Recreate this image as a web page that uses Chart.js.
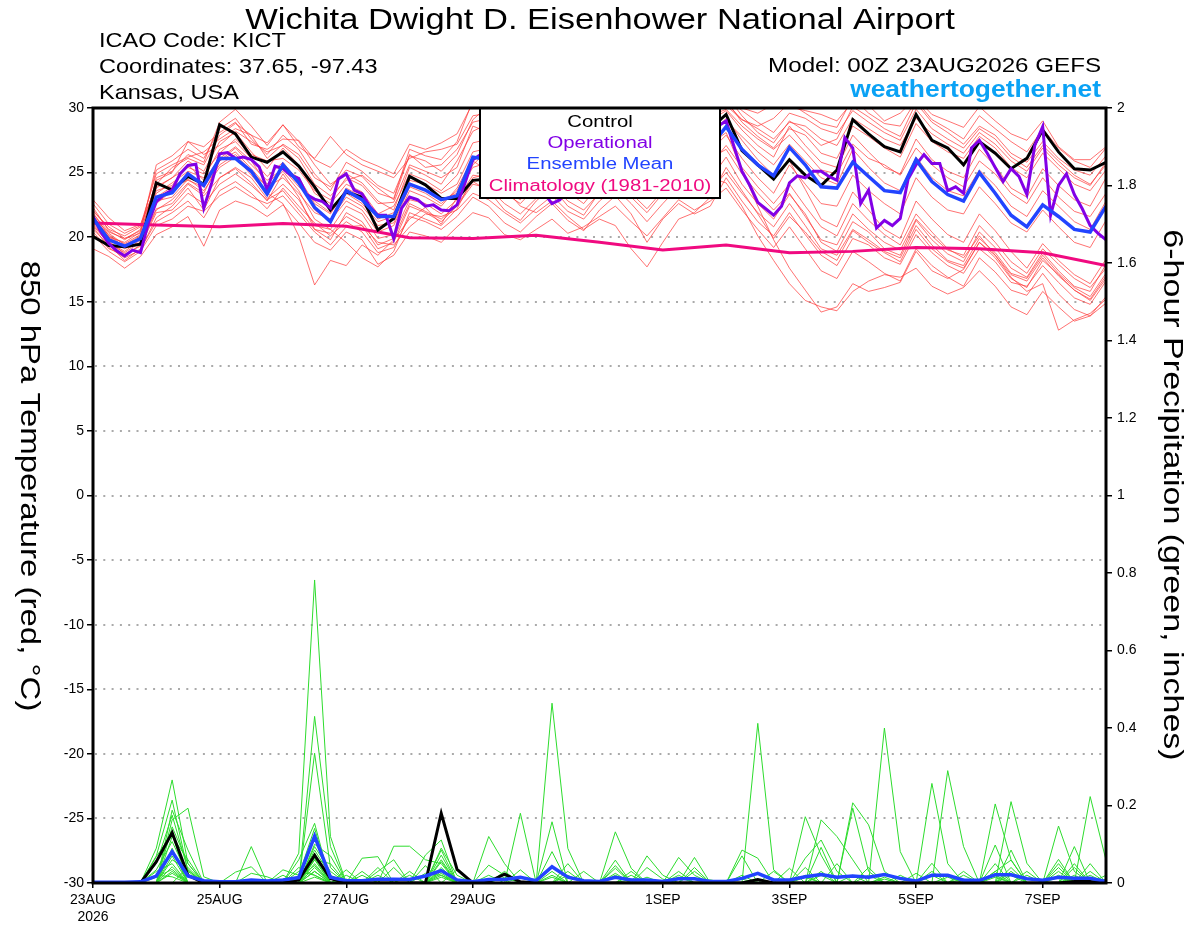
<!DOCTYPE html>
<html>
<head>
<meta charset="utf-8">
<script src="https://cdn.jsdelivr.net/npm/chart.js@4.4.1/dist/chart.umd.min.js"></script>
<style>
  html, body { margin: 0; padding: 0; background: #fff; }
  #wrap { position: relative; width: 1200px; height: 927px; }
</style>
</head>
<body>
<div id="wrap"><canvas id="c" width="1200" height="927"></canvas></div>
<script>
// ---- axis ticks (hours from 00Z 23AUG2026) ----
const xTickHours = [0, 48, 96, 144, 216, 264, 312, 360];
const xTickLabels = [["23AUG", "2026"], "25AUG", "27AUG", "29AUG", "1SEP", "3SEP", "5SEP", "7SEP"];

// ---- 850 hPa temperature, 6-hourly, 65 steps ----
const control = [
  20.05,19.35,19.25,19.45,24.2, 23.65,24.7,24.1,28.7,28.0, 26.2,25.8,26.6,25.5,23.9,
  22.1,23.5,23.1,20.55,21.45, 24.7,24.05,23.0,23.0,24.4, 24.5,25.2,25.8,26.5,25.6,
  26.0,27.1,27.9,27.3,26.8, 27.5,28.3,27.6,28.0,28.4, 29.5,26.7,25.6,24.5,26.0,
  24.8,24.0,25.2,29.1,28.0, 27.0,26.6,29.5,27.5,26.9, 25.6,27.4,26.5,25.3,26.1,
  28.3,26.6,25.3,25.2,25.8
];
const ensMean = [
  21.45,19.8,19.3,19.9,23.1, 23.45,24.9,24.0,26.1,26.1, 25.1,23.35,25.6,24.2,22.3,
  21.2,23.6,22.9,21.6,21.6, 24.1,23.65,22.9,23.2,26.2, 26.0,25.4,24.6,25.8,25.0,
  24.2,25.5,26.8,26.0,25.3, 24.6,25.9,27.0,26.2,27.0, 28.55,26.8,25.6,24.75,26.95,
  25.6,23.9,23.8,25.8,24.7, 23.6,23.45,26.0,24.3,23.3, 22.8,25.0,23.4,21.7,20.8,
  22.5,21.6,20.6,20.4,22.4
];
// operational run, 3-hourly, 129 steps
const operational = [
  21.6,20.4,19.5,18.95,18.55,19.0,18.8,21.1,
  22.75,23.3,23.65,24.9,25.55,25.65,22.25,24.2,
  26.45,26.55,26.1,26.2,26.0,25.45,23.65,25.5,
  25.3,24.8,24.55,23.3,22.95,22.75,22.25,24.5,
  24.9,23.65,23.35,22.35,21.7,21.7,19.9,22.25,
  23.1,22.9,22.4,22.5,22.1,22.05,22.5,24.2,
  26.0,26.4,25.8,25.1,24.6,25.3,24.8,24.1,
  23.9,23.4,22.6,22.9,23.8,24.6,25.5,26.2,
  25.7,25.0,25.9,26.8,26.3,25.6,26.1,27.0,
  27.6,26.9,26.4,27.2,27.9,27.3,27.8,28.6,
  29.0,27.0,25.1,24.0,22.7,22.2,21.7,22.4,
  24.2,24.75,24.6,25.1,25.1,24.7,24.4,27.7,
  26.9,22.6,23.65,20.7,21.3,20.9,21.45,24.5,
  25.6,26.4,25.7,25.7,23.6,23.9,23.4,26.9,
  27.5,26.5,25.4,24.3,25.3,24.7,23.3,27.1,
  28.55,21.7,24.0,24.9,23.3,22.2,20.9,20.3,
  19.8
];
// 1981-2010 climatology, daily
const climatology = [21.1,20.95,20.8,21.05,20.85,19.95,19.9,20.15,19.6,19.0,19.4,18.8,18.9,19.2,19.1,18.8,17.8];

const tempMembers = [
  [22.3,20.5,19.8,20.6,25.2, 25.9,26.8,26.1,28.4,29.2, 27.6,26.4,27.9,26.8,24.9, 23.6,25.8,25.1,24.0,23.4, 26.3,25.9,25.1,26.4,29.1, 30.2,29.4,28.6,29.8,30.5, 29.1,28.4,29.6,30.8,29.9, 28.7,29.3,30.4,29.8,30.6, 31.0,29.4,28.1,27.3,29.0, 28.2,27.1,27.6,30.1,29.3, 28.4,27.8,30.4,28.9,28.1, 27.2,28.6,27.9,26.5,25.8, 27.4,26.1,25.2,24.8,26.3],
  [20.8,19.2,18.4,19.0,21.5, 22.4,23.8,22.1,24.6,25.3, 24.2,22.8,24.9,23.1,20.6, 19.8,21.9,21.2,19.4,19.9, 22.6,22.0,21.4,22.5,24.3, 23.6,22.1,21.3,22.8,23.9, 22.4,21.7,23.5,24.6,23.1, 21.9,23.4,24.8,23.9,24.5, 26.2,24.1,22.6,21.4,23.3, 21.8,19.6,18.9,21.2,20.4, 19.1,18.6,21.3,19.8,18.7, 18.1,20.4,19.2,17.6,16.9, 18.8,17.4,16.2,15.8,17.9],
  [21.9,20.1,19.5,20.2,22.8, 23.1,24.5,23.6,25.4,26.2, 24.8,23.4,22.6,20.1,16.3, 18.2,17.8,19.4,18.6,19.8, 21.4,22.3,21.0,23.1,25.6, 26.8,25.2,24.4,26.1,27.3, 25.8,24.9,26.5,27.8,26.4, 25.1,26.8,28.2,27.1,27.9, 29.2,27.5,26.0,24.8,25.9, 23.7,21.4,20.8,23.5,22.1, 20.6,19.9,22.8,21.4,20.2, 19.6,21.8,20.5,18.9,17.6, 19.5,18.2,17.1,16.4,18.3],
  [21.2,19.9,19.1,19.6,24.6, 25.1,26.4,25.8,28.9,29.9, 28.6,27.1,28.7,27.4,25.6, 24.1,24.9,24.2,22.8,22.1, 25.4,24.8,24.1,25.9,28.2, 28.8,27.9,27.1,28.6,29.4, 28.1,27.6,28.9,30.1,29.2, 28.4,29.6,30.8,30.2,30.9, 30.6,28.9,27.8,26.9,28.4, 27.9,26.5,26.1,28.6,27.8, 26.9,26.2,28.8,27.4,26.6, 26.1,27.8,26.9,25.4,24.6, 26.5,25.3,24.1,23.6,25.2],
  [19.1,18.5,17.6,18.5,20.2, 20.8,21.6,19.3,22.1,22.8, 22.4,21.6,22.5,21.1,19.6, 19.0,20.4,19.8,17.9,18.6, 20.4,20.1,19.6,20.8,21.9, 21.5,20.2,19.8,20.6,21.4, 20.3,20.8,21.6,22.4,21.2, 20.1,21.5,22.9,22.1,22.8, 23.8,22.1,20.6,19.2,20.8, 19.1,17.4,16.8,18.9,18.1, 17.2,16.6,19.1,17.8,16.9, 16.2,18.4,17.3,15.9,15.5, 17.2,15.6,14.4,13.9,15.4],
  [21.6,20.3,19.4,20.1,23.4, 24.2,25.1,24.6,26.8,27.4, 26.1,24.7,25.8,24.3,22.1, 21.3,22.8,22.1,20.4,20.9, 23.6,23.1,22.4,23.8,26.1, 26.4,25.1,24.3,25.6,26.5, 25.2,24.4,25.9,27.1,26.0, 24.8,26.2,27.5,26.6,27.2, 28.1,25.2,22.4,19.8,17.6, 15.9,14.2,14.6,16.4,15.8, 16.1,16.5,18.9,17.4,16.8, 17.5,19.6,18.4,16.8,16.1, 18.2,17.1,15.9,15.2,17.0],
  [20.4,19.1,18.6,19.4,22.1, 22.9,24.2,23.4,25.9,26.6, 25.3,23.9,25.1,23.6,21.4, 20.6,22.4,21.8,19.9,20.2, 22.9,22.6,21.8,22.9,24.8, 24.6,23.4,22.6,23.9,24.8, 23.5,22.6,24.1,25.3,24.2, 23.1,24.6,25.8,24.9,25.6, 27.1,25.4,23.9,22.6,24.1, 22.4,20.8,20.1,22.6,21.3, 20.2,19.4,21.8,20.4,19.1, 18.4,20.1,18.6,16.9,15.8, 16.4,12.8,13.6,14.1,15.2],
  [21.4,20.0,19.6,20.4,25.6, 26.3,27.4,27.0,28.1,28.9, 27.2,26.8,27.6,27.5,26.0, 25.4,26.8,26.0,25.5,24.9, 27.2,26.8,27.3,28.0,30.4, 31.0,30.1,29.4,30.6,31.2, 29.8,29.1,30.4,31.3,30.5, 29.6,30.2,31.4,30.8,31.2, 30.8,30.0,29.6,30.3,30.1, 29.8,29.5,29.0,30.5,30.2, 29.0,29.6,30.8,29.5,29.0, 28.5,30.1,29.0,28.0,27.5, 29.0,27.0,26.0,26.0,27.0],
  [22.9,21.5,20.5,21.0,23.9, 24.6,25.9,25.1,27.4,28.1, 26.6,25.3,26.9,25.6,23.4, 22.6,24.1,23.5,21.8,22.4, 24.9,24.4,23.6,24.8,27.3, 27.6,26.4,25.5,27.0,28.1, 26.9,26.1,27.4,28.6,27.5, 26.4,27.9,29.2,28.4,29.0, 29.8,28.3,27.1,26.2,28.6, 27.1,25.8,25.4,27.9,26.6, 25.4,24.9,27.6,26.0,25.1, 24.6,26.8,25.5,23.8,23.1, 25.3,24.0,22.9,22.4,24.6],
  [21.0,19.6,18.9,19.8,22.6, 23.6,24.8,24.1,25.9,26.9, 25.6,24.4,25.3,23.9,22.8, 21.9,23.4,22.6,21.2,21.6, 24.2,23.6,22.9,23.4,25.4, 25.8,24.6,23.8,25.2,26.1, 24.7,23.9,25.3,26.6,25.5, 24.2,25.7,27.0,26.1,26.7, 27.9,26.1,24.6,23.4,25.6, 24.1,22.6,22.4,24.8,23.6, 22.6,21.8,24.6,23.1,22.1, 21.8,23.9,22.6,21.1,20.4, 22.1,20.8,19.6,19.2,21.3],
  [22.1,20.6,20.1,20.8,24.1, 25.4,26.1,25.6,27.9,28.8, 27.9,26.1,27.2,26.4,24.6, 23.9,25.2,24.7,23.4,23.0, 26.8,26.3,26.0,27.4,30.6, 30.4,29.3,28.4,29.5,30.1, 28.9,28.0,29.2,30.2,29.3, 28.1,29.0,30.3,29.5,30.2, 30.9,29.8,28.9,28.1,29.6, 29.2,28.4,28.0,29.8,28.9, 28.1,27.5,29.9,28.4,27.6, 26.9,28.4,27.6,26.2,25.4, 27.1,25.9,24.8,24.1,25.6],
  [20.6,19.4,18.2,19.1,21.2, 21.9,22.8,21.5,23.6,24.3, 23.4,22.2,23.8,22.4,21.1, 20.1,21.2,20.4,18.8,19.2, 21.6,21.2,20.6,21.6,23.1, 22.4,21.1,20.4,21.6,22.6, 21.3,20.5,22.1,23.2,21.8, 19.6,21.4,22.6,21.8,22.4, 24.6,22.8,21.2,20.1,21.9, 20.2,18.6,17.8,19.9,19.4, 18.4,17.9,20.2,18.8,17.8, 17.2,19.1,18.1,16.5,16.2, 17.8,16.5,15.3,14.8,16.6],
  [21.8,20.4,19.9,20.5,23.8, 24.6,25.4,24.9,26.5,27.6, 26.4,25.9,26.1,25.2,23.6, 22.9,24.6,24.0,22.6,22.7, 25.6,25.1,24.6,25.4,28.6, 28.1,27.2,26.4,27.8,28.6, 27.4,26.6,27.9,29.1,28.1, 27.1,28.4,29.6,28.9,29.4, 29.9,28.6,27.6,26.8,27.9, 26.6,25.2,24.9,27.2,26.1, 25.6,24.8,26.9,25.6,24.6, 23.9,25.9,24.9,23.4,22.6, 24.6,23.1,22.0,21.6,23.4],
  [20.9,19.5,18.8,19.6,22.2, 22.6,24.1,23.2,24.6,25.4, 24.6,23.0,24.1,22.9,20.9, 20.6,19.6,18.4,17.7,18.9, 21.9,21.4,20.9,22.2,24.6, 24.9,23.6,22.9,24.3,25.1, 24.0,23.2,24.6,25.8,24.6, 23.4,24.9,26.2,25.4,26.1, 26.8,24.9,23.4,22.1,23.4, 21.6,19.8,19.4,21.8,20.6, 19.6,19.0,21.4,20.1,19.0, 18.6,20.9,19.6,18.1,17.2, 19.1,17.9,16.8,16.1,17.6],
  [22.6,21.0,20.3,20.9,24.9, 25.6,26.2,26.6,27.6,28.4, 27.9,27.3,28.7,27.0,26.1, 27.8,26.4,25.6,25.1,24.6, 26.1,26.6,26.8,27.2,29.4, 29.6,28.7,27.9,29.1,29.8, 28.6,27.8,29.0,30.4,29.4, 28.2,29.4,30.6,29.6,30.4, 30.4,29.1,28.4,27.6,28.9, 28.6,27.6,27.1,29.2,28.4, 27.6,27.1,29.2,28.0,27.2, 26.5,28.1,27.2,25.9,25.1, 26.9,25.6,24.6,24.0,25.8],
  [21.3,20.2,19.2,19.9,23.1, 23.9,24.4,23.9,25.6,26.4, 25.1,23.9,24.6,23.4,21.9, 21.4,23.1,22.4,20.9,21.1, 23.9,23.4,22.6,23.6,25.9, 25.1,23.8,22.4,21.9,22.8, 21.6,20.6,21.4,20.9,19.1, 17.7,19.6,21.4,21.9,23.1, 25.4,23.6,21.8,19.9,21.6, 20.4,18.9,18.2,20.5,19.6, 18.8,18.1,20.6,19.1,18.1, 17.6,19.6,18.6,17.1,16.6, 18.4,17.0,15.9,15.1,16.8],
  [22.0,20.8,19.9,20.3,24.4, 25.0,27.4,26.4,27.1,28.2, 27.4,26.6,27.1,26.1,24.1, 23.2,24.4,24.8,23.8,22.9, 26.4,25.4,25.6,26.8,28.9, 29.2,28.3,27.6,28.9,29.6, 28.4,27.4,28.6,29.8,28.8, 27.6,28.8,30.1,29.3,29.8, 30.2,29.1,28.6,29.2,30.4, 29.6,28.8,28.5,30.8,29.6, 28.8,28.6,30.6,29.1,28.4, 27.6,29.4,28.4,27.4,26.6, 28.4,26.9,25.9,25.4,26.9],
  [20.2,18.9,18.1,18.9,20.9, 21.4,22.4,22.0,23.2,23.9, 23.1,22.6,23.2,21.8,20.4, 19.4,20.8,20.9,19.6,19.4, 20.8,21.8,21.6,22.1,23.4, 22.9,21.9,21.1,22.2,23.2, 22.0,21.4,22.8,23.8,22.6, 21.2,22.6,23.9,23.2,23.6, 25.0,23.4,21.9,20.8,22.6, 20.9,19.1,18.6,20.6,19.8, 18.9,18.4,20.9,19.4,18.2, 17.8,19.9,18.8,17.2,16.8, 18.6,17.2,16.1,15.4,17.2],
  [21.7,20.0,19.3,20.0,23.6, 24.0,25.6,24.4,26.1,27.0, 25.9,24.1,25.4,24.6,22.6, 21.8,23.8,23.1,21.4,21.9, 24.4,24.1,23.4,24.1,26.6, 26.9,25.6,24.8,26.4,27.4, 26.1,25.2,26.6,27.9,26.8, 25.6,27.1,28.5,27.6,28.3, 29.0,27.8,26.6,25.6,27.2, 25.9,24.6,24.1,26.8,25.4, 24.2,23.6,26.2,24.6,23.6, 23.2,25.2,24.0,22.4,21.6, 23.6,22.4,21.2,20.6,22.8],
  [21.1,19.7,18.7,19.3,21.9, 22.1,23.4,22.6,24.1,24.9, 24.0,22.9,23.6,22.1,20.6, 20.3,21.6,20.9,19.1,19.6, 22.4,21.9,21.2,22.4,24.1, 23.8,22.6,21.8,23.0,24.1, 22.8,22.1,23.4,24.6,23.4, 22.2,23.6,24.9,24.1,24.6, 24.2,22.4,20.1,18.2,16.4, 15.1,14.6,14.3,15.8,16.6, 17.1,16.9,17.6,16.2,15.6, 16.1,17.4,16.2,14.6,14.0, 15.8,14.6,13.5,13.9,14.9]
];

// ---- 6-hour precipitation (inches), 6-hourly, 65 steps ----
const precipControl = [
  0,0,0,0,0.055, 0.13,0.02,0,0,0, 0,0,0,0.008,0.072, 0.012,0,0,0,0, 0,0,0.18,0.035,0,
  0.003,0.023,0.003,0,0, 0,0,0,0,0, 0,0,0,0,0, 0,0,0.009,0,0, 0,0,0,0,0,
  0,0,0,0,0, 0,0,0,0,0, 0,0,0.004,0.004,0
];
const precipMean = [
  0.002,0.002,0.002,0.003,0.018, 0.081,0.018,0.006,0.003,0.003, 0.008,0.005,0.008,0.014,0.121,
  0.015,0.006,0.006,0.01,0.01, 0.009,0.018,0.032,0.008,0.003, 0.009,0.009,0.015,0.006,0.042,
  0.015,0.006,0.004,0.015,0.008, 0.008,0.004,0.011,0.011,0.004, 0.004,0.012,0.025,0.008,0.008,
  0.016,0.022,0.015,0.018,0.015, 0.022,0.012,0.005,0.02,0.02, 0.007,0.007,0.021,0.021,0.011,
  0.007,0.015,0.012,0.012,0.004
];
const precipMembers = [
  [0,0,0,0,.09, .266,.05,0,0,0, 0,0,0,0,.06, 0,0,0,0,0, 0,0,.085,0,0, 0,0,0,0,.158, 0,0,0,.132,.038, 0,0,0,0,0, 0,0,.412,.034,0, 0,0,0,0,0, 0,0,0,.257,.05, 0,0,0,.085,0, 0,0,0,0,0],
  [0,0,0,0,.07, .214,.03,0,0,0, 0,0,0,.077,.782, .12,0,0,0,0, 0,0,.072,0,0, 0,0,.18,0,0, 0,0,0,0,0, 0,0,0,0,0, 0,0,0,0,0, .171,.072,0,0,0, 0,0,0,0,0, 0,0,.204,.06,0, 0,0,0,.223,.059],
  [0,0,0,0,0, .188,.085,0,0,0, 0,0,0,0,.43, .094,0,0,0,0, 0,.072,.111,0,0, 0,0,0,0,.464, .089,0,0,0,0, 0,0,0,0,0, 0,0,0,0,0, 0,.163,.12,.06,0, 0,0,0,0,.29, .094,0,0,0,0, 0,.147,.03,0,0],
  [0,0,0,0,.05, .175,.034,0,0,0, .094,0,0,0,.335, .04,0,0,0,0, 0,0,0,0,0, .12,.05,0,0,0, 0,0,0,0,0, 0,0,0,0,0, 0,0,0,0,0, 0,0,0,.207,.15, .03,0,0,0,0, 0,0,0,.21,.051, 0,0,.094,0,0],
  [0,0,0,0,0, .163,.193,.016,0,0, 0,0,0,.06,.154, 0,0,.064,.068,0, 0,0,0,0,0, 0,0,0,0,0, 0,0,0,.059,0, .07,.02,0,0,0, 0,0,0,0,0, 0,0,0,0,0, .40,.081,0,0,0, 0,0,.098,0,0, 0,.061,0,0,0],
  [0,0,0,0,0, .145,.05,0,0,0, 0,0,.034,.02,.141, 0,0,0,0,.095, .095,.06,.05,0,0, 0,0,0,0,0, 0,0,0,0,0, 0,0,0,0,0, 0,.085,.064,0,0, 0,0,0,.193,.03, 0,0,0,.051,0, 0,0,0,0,0, 0,0,0,0,.02],
  [0,0,0,0,.068, .128,0,0,0,0, 0,0,0,0,.094, .03,0,0,0,0, 0,0,.04,0,0, .046,.02,0,0,0, 0,0,0,0,0, 0,0,.066,.02,0, 0,0,0,0,0, .064,.111,.03,0,0, 0,0,0,0,0, .03,0,.03,.059,0, 0,0,0,0,0],
  [0,0,0,0,.034, .107,.02,0,0,.028, .042,0,0,0,.077, 0,.034,0,0,0, 0,0,0,0,0, 0,0,.034,0,.081, 0,0,0,.038,0, 0,0,0,.066,0, 0,0,0,0,0, 0,.092,0,0,0, 0,0,.025,0,0, 0,0,0,0,0, 0,0,.02,0,0],
  [0,0,0,0,0, .085,0,0,0,0, .025,.016,0,0,.05, 0,0,0,.03,.06, 0,0,.03,0,0, 0,0,0,0,0, .02,0,0,0,.03, 0,0,0,0,0, 0,.07,0,0,.038, 0,0,0,0,.02, 0,0,0,0,0, 0,0,0,0,.02, 0,0,0,.03,0],
  [0,0,0,0,0, .06,.034,0,0,0, 0,0,.02,0,.03, 0,0,.03,0,0, 0,.025,.02,0,0, 0,.03,0,0,0, 0,0,0,0,0, .04,.01,0,0,0, 0,0,0,.03,0, 0,0,0,0,0, 0,.02,0,0,0, 0,0,.05,0,0, 0,.04,0,0,0],
  [0,0,0,0,0, .042,0,0,0,0, 0,0,0,.03,.02, 0,.02,0,0,0, 0,0,0,.034,0, 0,0,0,0,0, 0,.03,0,0,0, 0,0,.03,0,.008, 0,0,0,0,0, .04,0,0,0,0, 0,0,0,0,0, 0,0,0,.04,0, 0,0,.05,0,0],
  [0,0,0,0,0, .03,0,0,0,0, 0,0,0,0,.06, .05,0,0,0,0, .02,0,.06,0,0, 0,0,0,0,.03, 0,0,0,.02,0, 0,0,0,0,0, 0,0,0,0,0, 0,0,.05,0,0, 0,0,0,.02,0, 0,0,0,0,0, 0,.03,0,.05,0],
  [0,0,0,0,.02, .016,0,0,0,0, 0,0,0,0,.04, 0,0,0,.04,0, 0,0,.055,0,0, .02,0,0,0,0, .05,0,0,0,0, 0,0,0,.03,0, 0,0,0,0,0, 0,.03,0,0,0, 0,0,0,0,0, .02,0,0,0,0, 0,0,.04,0,0],
  [0,0,0,0,0, .12,.06,0,0,0, 0,0,0,0,.1, .07,0,0,0,.04, 0,.045,0,0,0, 0,0,0,0,0, 0,0,0,.025,0, 0,0,.02,0,0, 0,0,0,0,0, .02,0,0,0,0, .015,0,0,0,0, 0,0,.03,0,0, 0,0,0,.02,0],
  [0,0,0,0,.03, .05,0,0,0,0, 0,0,0,.04,.02, 0,0,.02,0,0, 0,0,.035,0,0, 0,0,.015,0,0, 0,0,0,0,.02, 0,0,0,0,0, 0,.02,0,0,0, 0,0,0,.02,0, 0,0,0,0,0, 0,0,0,.03,0, 0,.02,0,0,0],
  [0,0,0,0,0, 0,.04,0,0,0, 0,0,0,0,.03, 0,0,0,0,0, 0,0,.02,0,0, 0,0,0,0,.02, 0,0,0,0,0, .015,0,0,0,0, 0,0,.01,0,0, 0,0,0,0,.04, 0,0,0,0,.015, 0,0,0,0,.03, 0,0,0,0,.01],
  [0,0,0,0,0, .07,0,0,0,0, 0,0,0,0,.085, .02,0,0,0,0, .03,0,.09,.02,0, 0,0,0,0,0, .03,0,0,0,0, 0,0,0,.04,0, 0,0,0,0,0, 0,0,0,0,0, 0,0,0,.03,0, 0,0,.02,0,0, 0,0,.015,0,0],
  [0,0,0,0,0, .09,0,0,0,0, 0,0,0,0,.065, 0,0,0,.02,0, 0,0,0,0,0, 0,.015,0,0,0, 0,0,0,.045,0, 0,0,0,0,0, 0,0,0,0,0, 0,.02,0,0,0, 0,0,0,0,0, .01,0,0,0,0, 0,.05,0,.01,0],
  [0,0,0,0,.015, .035,0,0,0,0, 0,0,0,.015,.045, 0,.01,0,0,0, 0,0,.015,0,0, 0,0,0,0,.015, 0,0,0,0,0, 0,0,.015,0,0, 0,0,0,0,0, .015,0,0,0,0, 0,0,0,0,0, 0,0,0,.02,0, 0,0,0,0,0],
  [0,0,0,0,0, .025,0,0,0,0, 0,0,0,0,.015, 0,0,0,0,0, 0,0,.025,0,0, 0,0,0,0,0, 0,0,0,0,.01, 0,0,0,0,0, 0,.01,0,0,0, 0,0,0,0,0, .01,0,0,0,0, 0,0,.015,0,0, 0,.015,0,0,0]
];

const FONT = "'Liberation Sans', Arial, Helvetica, sans-serif";
const atStep = step => arr => arr.map((v, i) => ({ x: i * step, y: v }));
const six = atStep(6);

const datasets = [];
tempMembers.forEach(m => datasets.push({
  data: six(m), yAxisID: "y", borderColor: "rgba(255,60,60,0.72)", borderWidth: 1, order: 6
}));
precipMembers.forEach(m => datasets.push({
  data: six(m), yAxisID: "y2", borderColor: "rgb(45,220,45)", borderWidth: 1, order: 5
}));
datasets.push({ data: atStep(24)(climatology), yAxisID: "y", borderColor: "#f00a80", borderWidth: 3, order: 4 });
datasets.push({ data: six(control), yAxisID: "y", borderColor: "#000", borderWidth: 3, order: 3 });
datasets.push({ data: six(precipControl), yAxisID: "y2", borderColor: "#000", borderWidth: 3, order: 3 });
datasets.push({ data: atStep(3)(operational), yAxisID: "y", borderColor: "#8200e6", borderWidth: 3, order: 2 });
datasets.push({ data: six(ensMean), yAxisID: "y", borderColor: "#2244ff", borderWidth: 3.5, order: 1 });
datasets.push({ data: six(precipMean), yAxisID: "y2", borderColor: "#2244ff", borderWidth: 3.5, order: 1 });

// stretched text, like the wide lettering of the original plot
function txt(ctx, s, x, y, o) {
  ctx.save();
  ctx.translate(x, y);
  if (o.rot) ctx.rotate(o.rot);
  ctx.scale(o.sx || 1, 1);
  ctx.font = o.font;
  ctx.fillStyle = o.color || "#000";
  ctx.textAlign = o.align || "left";
  ctx.textBaseline = "alphabetic";
  ctx.fillText(s, 0, 0);
  ctx.restore();
}

const decor = {
  id: "decor",
  beforeDatasetsDraw(chart) {
    const { ctx, chartArea: a, scales: { y } } = chart;
    ctx.save();
    ctx.strokeStyle = "#aaaaaa";
    ctx.lineWidth = 2;
    ctx.setLineDash([2, 6.3]);
    y.ticks.forEach(t => {
      if (t.value <= y.min || t.value >= y.max) return;
      const py = Math.round(y.getPixelForValue(t.value));
      ctx.beginPath();
      ctx.moveTo(a.left + 2, py);
      ctx.lineTo(a.right, py);
      ctx.stroke();
    });
    ctx.restore();
  },
  afterDatasetsDraw(chart) {
    const { ctx, chartArea: a } = chart;
    ctx.save();
    // legend box
    ctx.fillStyle = "#fff";
    ctx.fillRect(480, a.top, 240, 90);
    ctx.strokeStyle = "#000";
    ctx.lineWidth = 2;
    ctx.strokeRect(480, a.top, 240, 90);
    const lf = "16px " + FONT;
    txt(ctx, "Control", 600, 126.5, { font: lf, sx: 1.27, align: "center", color: "#000" });
    txt(ctx, "Operational", 600, 147.5, { font: lf, sx: 1.27, align: "center", color: "#8200e6" });
    txt(ctx, "Ensemble Mean", 600, 169, { font: lf, sx: 1.27, align: "center", color: "#2244ff" });
    txt(ctx, "Climatology (1981-2010)", 600, 190.5, { font: lf, sx: 1.27, align: "center", color: "#f00a80" });
    // plot frame
    ctx.lineWidth = 3;
    ctx.strokeRect(a.left, a.top, a.right - a.left, a.bottom - a.top);
    ctx.restore();
  },
  afterDraw(chart) {
    const { ctx } = chart;
    txt(ctx, "Wichita Dwight D. Eisenhower National Airport", 600, 28.5, { font: "30px " + FONT, sx: 1.15, align: "center" });
    const inf = "21px " + FONT;
    txt(ctx, "ICAO Code: KICT", 99, 46.7, { font: inf, sx: 1.12 });
    txt(ctx, "Coordinates: 37.65, -97.43", 99, 72.7, { font: inf, sx: 1.12 });
    txt(ctx, "Kansas, USA", 99, 99.3, { font: inf, sx: 1.12 });
    txt(ctx, "Model: 00Z 23AUG2026 GEFS", 1101, 71.5, { font: inf, sx: 1.15, align: "right" });
    txt(ctx, "weathertogether.net", 1101, 97, { font: "bold 24px " + FONT, sx: 1.1, align: "right", color: "#0aa2f5" });
    const af = "27px " + FONT;
    txt(ctx, "850 hPa Temperature (red, °C)", 21, 486, { font: af, sx: 1.22, align: "center", rot: Math.PI / 2 });
    txt(ctx, "6-hour Precipitation (green, inches)", 1164, 495, { font: af, sx: 1.26, align: "center", rot: Math.PI / 2 });
  }
};

const tickGrid = { drawOnChartArea: false, drawTicks: true, tickLength: 6, color: "#000", lineWidth: 1.5 };

new Chart(document.getElementById("c"), {
  type: "line",
  data: { datasets },
  options: {
    responsive: false,
    animation: false,
    events: [],
    parsing: { xAxisKey: "x", yAxisKey: "y" },
    layout: { padding: { top: 108, left: 0, right: 0, bottom: 0 } },
    elements: { point: { radius: 0 }, line: { tension: 0, fill: false } },
    plugins: { legend: { display: false }, tooltip: { enabled: false }, title: { display: false } },
    scales: {
      x: {
        type: "linear", min: 0, max: 384,
        afterBuildTicks: s => { s.ticks = xTickHours.map(v => ({ value: v })); },
        afterFit: s => { s.height = 44; },
        ticks: {
          autoSkip: false, maxRotation: 0, padding: 3, color: "#000",
          font: { family: FONT, size: 14, lineHeight: 1.25 },
          callback: v => xTickLabels[xTickHours.indexOf(v)]
        },
        grid: { ...tickGrid, tickLength: 5 },
        border: { display: false }
      },
      y: {
        type: "linear", position: "left", min: -30, max: 30,
        afterFit: s => { s.width = 93; },
        ticks: { stepSize: 5, padding: 3, color: "#000", font: { family: FONT, size: 14 } },
        grid: tickGrid,
        border: { display: false }
      },
      y2: {
        type: "linear", position: "right", min: 0, max: 2,
        afterFit: s => { s.width = 94; },
        ticks: {
          stepSize: 0.2, padding: 5, color: "#000", font: { family: FONT, size: 14 },
          callback: v => String(Math.round(v * 10) / 10)
        },
        grid: tickGrid,
        border: { display: false }
      }
    }
  },
  plugins: [decor]
});
</script>
</body>
</html>
